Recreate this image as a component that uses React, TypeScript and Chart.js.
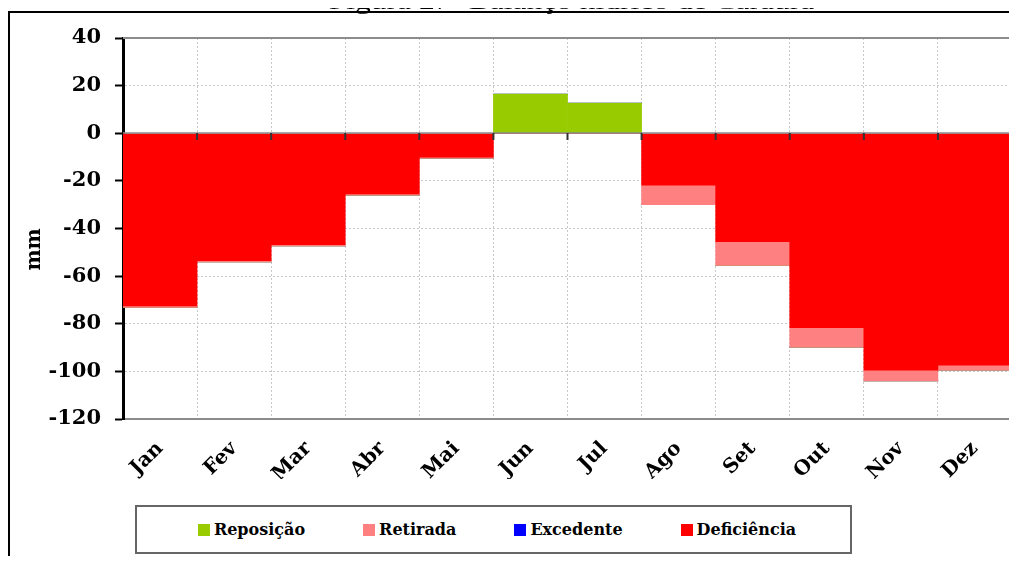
import React, { useEffect, useRef } from 'react';
import { Chart, registerables } from 'chart.js';

Chart.register(...registerables);

const months = ['Jan', 'Fev', 'Mar', 'Abr', 'Mai', 'Jun', 'Jul', 'Ago', 'Set', 'Out', 'Nov', 'Dez'];
const reposicao = [0, 0, 0, 0, 0, 16.4, 12.7, 0, 0, 0, 0, 0];
const retirada = [-0.6, -0.5, -0.5, -0.5, -0.5, 0, 0, -8.2, -10, -8.2, -4.5, -2.1];
const excedente = [0, 0, 0, 0, 0, 0, 0, 0, 0, 0, 0, 0];
const deficiencia = [-72.5, -53.5, -46.8, -25.5, -10, 0, 0, -21.8, -45.5, -81.6, -99.5, -97.4];

const yMin = -120;
const yMax = 40;
const yStep = 20;

const seriesNames = ['Reposição', 'Retirada', 'Excedente', 'Deficiência'];
const seriesColors = ['#99CC00', '#FF8080', '#0000FF', '#FF0000'];

const titleText = 'Figura 27- Balanço hídrico de Caraúra';
const axisTitle = 'mm';

const FONT = '"DejaVu Serif", serif';

const titlePlugin = {
  id: 'titlePlugin',
  afterDraw(chart: any) {
    const { ctx, chartArea: a } = chart;
    ctx.save();
    ctx.font = '21px "Liberation Serif", serif';
    ctx.fillStyle = '#000';
    ctx.textAlign = 'center';
    ctx.textBaseline = 'alphabetic';
    ctx.setTransform(1.5, 0, 0, 1, 0, 0);
    ctx.fillText(titleText, 563.5 / 1.5, 8.5);
    ctx.restore();
    // y-axis title
    ctx.save();
    ctx.font = 'bold 20px ' + FONT;
    ctx.fillStyle = '#000';
    ctx.textAlign = 'center';
    ctx.textBaseline = 'middle';
    ctx.translate(26.5, a.top + (a.bottom - a.top) * 0.555);
    ctx.rotate(-Math.PI / 2);
    ctx.fillText(axisTitle, 0, 0);
    ctx.restore();
  },
};

const framePlugin = {
  id: 'framePlugin',
  afterDatasetsDraw(chart: any) {
    const { ctx, chartArea: a, scales } = chart;
    const x = scales.x;
    const y = scales.y;
    ctx.save();
    ctx.strokeStyle = '#8c8c8c';
    ctx.lineWidth = 2;
    ctx.beginPath();
    ctx.moveTo(a.left, a.top);
    ctx.lineTo(a.right, a.top);
    ctx.lineTo(a.right, a.bottom);
    ctx.stroke();
    const y0 = Math.round(y.getPixelForValue(0));
    ctx.strokeStyle = '#8a8a8a';
    ctx.lineWidth = 1.5;
    ctx.beginPath();
    ctx.moveTo(a.left, y0);
    ctx.lineTo(a.right, y0);
    ctx.stroke();
    ctx.strokeStyle = '#333';
    ctx.lineWidth = 2;
    ctx.beginPath();
    for (let i = 1; i <= months.length; i++) {
      const px = x.getPixelForValue(i - 0.5);
      ctx.moveTo(px, y0);
      ctx.lineTo(px, y0 + 7);
    }
    ctx.stroke();
    ctx.restore();
  },
};

export default function App() {
  const ref = useRef<HTMLCanvasElement>(null);

  useEffect(() => {
    const base = { barPercentage: 1, categoryPercentage: 1, borderWidth: 0, stack: 's' };
    const chart = new Chart(ref.current as HTMLCanvasElement, {
      type: 'bar',
      data: {
        labels: months,
        datasets: [
          { ...base, label: seriesNames[3], data: deficiencia, backgroundColor: seriesColors[3] },
          { ...base, label: seriesNames[1], data: retirada, backgroundColor: seriesColors[1] },
          { ...base, label: seriesNames[0], data: reposicao, backgroundColor: seriesColors[0] },
          { ...base, label: seriesNames[2], data: excedente, backgroundColor: seriesColors[2] },
        ],
      },
      options: {
        animation: false,
        responsive: false,
        layout: { padding: { top: 38, right: 5, left: 10.5, bottom: 21 } },
        plugins: { legend: { display: false }, tooltip: { enabled: false } },
        scales: {
          x: {
            stacked: true,
            afterFit: (s: any) => { s.height = 60; },
            grid: { color: '#c8c8c8', drawTicks: false, offset: true },
            border: { color: '#8c8c8c', width: 2, dash: [2, 2] },
            ticks: {
              color: '#000',
              font: { family: FONT, weight: 'bold', size: 20 },
              maxRotation: 45,
              minRotation: 45,
              padding: 18,
            },
          },
          y: {
            stacked: true,
            min: yMin,
            max: yMax,
            afterFit: (s: any) => { s.width = 104.5; },
            ticks: {
              stepSize: yStep,
              color: '#000',
              font: { family: FONT, weight: 'bold', size: 21 },
              padding: 14,
            },
            grid: { color: '#c8c8c8', tickColor: '#000', tickLength: 8, tickWidth: 2, tickBorderDash: [] },
            border: { color: '#000', width: 3, dash: [2, 2] },
          },
        },
      } as any,
      plugins: [framePlugin, titlePlugin],
    });
    return () => chart.destroy();
  }, []);

  return (
    <div style={{ position: 'relative', width: 1009, height: 548 }}>
      <div
        style={{
          position: 'absolute',
          left: 0,
          top: 3,
          width: 1009,
          height: 553,
          boxSizing: 'border-box',
          borderTop: '2px solid #000',
          borderLeft: '2px solid #000',
        }}
      />
      <canvas
        ref={ref}
        width={1009}
        height={500}
        style={{ position: 'absolute', left: 0, top: -8, width: 1009, height: 500, display: 'block' }}
      />
      <div
        style={{
          position: 'absolute',
          left: 127,
          top: 497,
          width: 717,
          height: 49,
          boxSizing: 'border-box',
          border: '2px solid #666',
          display: 'flex',
          alignItems: 'center',
          justifyContent: 'center',
          gap: 58,
          paddingLeft: 7,
          fontFamily: FONT,
          fontWeight: 'bold',
          fontSize: 16,
          color: '#000',
        }}
      >
        {seriesNames.map((name, i) => (
          <div key={name} style={{ display: 'flex', alignItems: 'center' }}>
            <span style={{ display: 'inline-block', width: 12, height: 12, background: seriesColors[i], marginRight: 4 }} />
            {name}
          </div>
        ))}
      </div>
    </div>
  );
}
